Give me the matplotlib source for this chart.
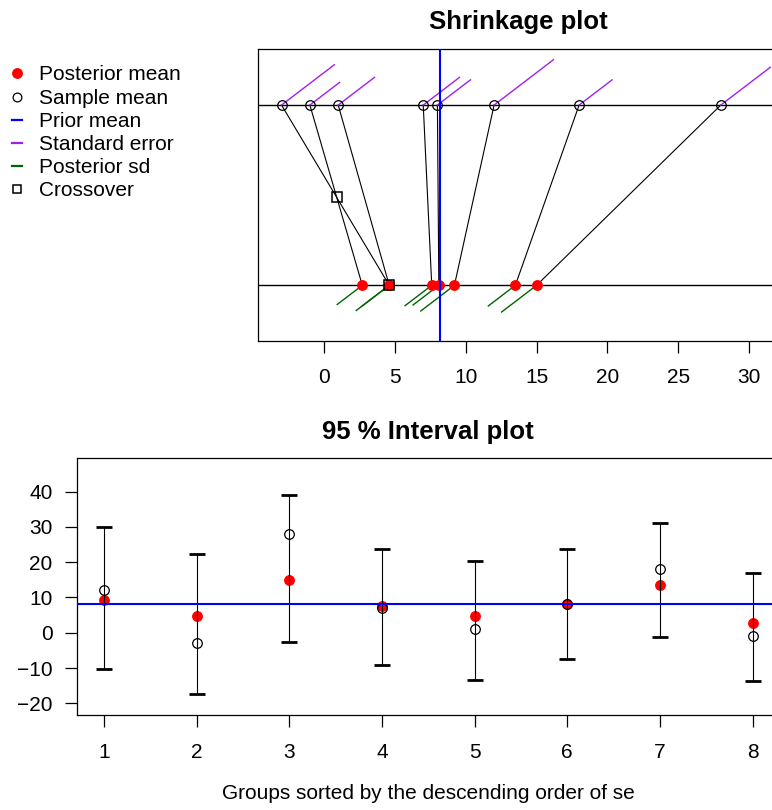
import numpy as np
import matplotlib
matplotlib.use("Agg")
import matplotlib.pyplot as plt

plt.rcParams['font.family'] = ['Liberation Sans', 'DejaVu Sans']

# ---- data (groups sorted by descending se) ----
groups = [1, 2, 3, 4, 5, 6, 7, 8]
sample_mean = [12, -3, 28, 7, 1, 8, 18, -1]
std_err = [18, 16, 15, 11, 11, 10, 10, 9]
post_mean = [9.2, 4.6, 15.0, 7.6, 4.6, 8.1, 13.5, 2.7]
post_sd = [10.2, 10.0, 10.6, 8.1, 8.4, 7.8, 8.2, 7.6]
lower95 = [-10.4, -17.3, -2.5, -9.1, -13.3, -7.4, -1.3, -13.6]
upper95 = [30.1, 22.4, 38.9, 23.6, 20.2, 23.6, 31.0, 16.8]
prior_mean = 8.17
top_xticks = [0, 5, 10, 15, 20, 25, 30]
bot_yticks = [-20, -10, 0, 10, 20, 30, 40]
legend_labels = ["Posterior mean", "Sample mean", "Prior mean",
                 "Standard error", "Posterior sd", "Crossover"]

W, H = 772, 810
fig = plt.figure(figsize=(W / 100, H / 100), dpi=100)
fig.patch.set_facecolor('white')

BASE = 15
TITLE = 18.5
DOT = 6.8
CIRC = 6.9

s = np.array(sample_mean, float)
p = np.array(post_mean, float)
se = np.array(std_err, float)
psd = np.array(post_sd, float)

# ---------------- Shrinkage plot ----------------
L1, R1, T1, B1 = 258.3, 779.2, 49, 341
ax1 = fig.add_axes([L1 / W, 1 - B1 / H, (R1 - L1) / W, (B1 - T1) / H])
ax1.set_xlim(-4.64, 32.12)
ax1.set_ylim(-0.309, 1.311)
xpx = (R1 - L1) / (32.12 + 4.64)
ypx = (B1 - T1) / (1.311 + 0.309)
kx = 3.3 / xpx     # data-x per unit of se
ky = 2.52 / ypx    # data-y per unit of se

ax1.axhline(1, color='black', lw=1.0, zorder=1)
ax1.axhline(0, color='black', lw=1.0, zorder=1)
for i in range(len(s)):
    ax1.plot([s[i], p[i]], [1, 0], color='black', lw=0.8, zorder=2)
    ax1.plot([s[i], s[i] + kx * se[i]], [1, 1 + ky * se[i]], color='#A020F0', lw=1.0, zorder=2)
    ax1.plot([p[i], p[i] - kx * psd[i]], [0, -ky * psd[i]], color='#006400', lw=1.0, zorder=2)
ax1.plot(p, np.zeros_like(p), 'o', color='red', ms=DOT, mec='red', zorder=3)
ax1.plot(s, np.ones_like(s), 'o', mfc='none', mec='black', ms=CIRC, mew=0.9, zorder=3)

# crossovers
cx, cy = [], []
for i in range(len(s)):
    for j in range(i + 1, len(s)):
        den = (p[i] - s[i]) - (p[j] - s[j])
        if abs(den) < 1e-12:
            continue
        t = (s[j] - s[i]) / den
        if -1e-9 <= t <= 1 + 1e-9:
            cx.append(s[i] + t * (p[i] - s[i]))
            cy.append(1 - t)
ax1.plot(cx, cy, 's', mfc='none', mec='black', ms=6.6, mew=1.1, zorder=5)
ax1.axvline(prior_mean, color='blue', lw=1.5, zorder=4)

ax1.set_yticks([])
ax1.set_xticks(top_xticks)
ax1.tick_params(axis='x', length=8.6, width=0.9, pad=11.0, labelsize=BASE)
for sp in ax1.spines.values():
    sp.set_linewidth(0.9)
ax1.set_title("Shrinkage plot", fontsize=TITLE, fontweight='bold', pad=14.4)

# ---------------- Interval plot ----------------
L2, R2, T2, B2 = 77.3, 779.2, 457.7, 715.3
ax2 = fig.add_axes([L2 / W, 1 - B2 / H, (R2 - L2) / W, (B2 - T2) / H])
ax2.set_xlim(0.714, 8.286)
ax2.set_ylim(-23.4, 49.6)
g = np.array(groups)
ax2.plot(g, p, 'o', color='red', ms=DOT, zorder=2)
ax2.plot(g, s, 'o', mfc='none', mec='black', ms=CIRC, mew=0.9, zorder=3)
lo = p - np.array(lower95)
hi = np.array(upper95) - p
ax2.errorbar(g, p, yerr=[lo, hi], fmt='none', ecolor='black', elinewidth=0.8,
             capsize=6.0, capthick=2.0, zorder=4)
ax2.axhline(prior_mean, color='blue', lw=1.5, zorder=5)
ax2.set_xticks(groups)
ax2.set_yticks(bot_yticks)
ax2.tick_params(axis='x', length=8.4, width=0.9, pad=11.5, labelsize=BASE)
ax2.tick_params(axis='y', length=8.4, width=0.9, pad=9.4, labelsize=BASE)
for sp in ax2.spines.values():
    sp.set_linewidth(0.9)
ax2.set_title("95 % Interval plot", fontsize=TITLE, fontweight='bold', pad=13.7)
fig.text(428.25 / W, 1 - 799 / H, "Groups sorted by the descending order of se",
         ha='center', va='baseline', fontsize=BASE)

# ---------------- Legend (manual, figure coords) ----------------
lg = fig.add_axes([0, 0, 1, 1], facecolor='none')
lg.set_xlim(0, W)
lg.set_ylim(H, 0)
lg.axis('off')
y0, step = 73.3, 23.2
mx = 17
ys = [y0 + k * step for k in range(len(legend_labels))]
lg.plot([mx], [ys[0]], 'o', color='red', ms=DOT)
lg.plot([mx], [ys[1]], 'o', mfc='none', mec='black', ms=CIRC - 0.6, mew=0.9)
lg.plot([12.3, 21.7], [ys[2], ys[2]], color='blue', lw=1.6)
lg.plot([12.3, 21.7], [ys[3], ys[3]], color='#A020F0', lw=1.6)
lg.plot([12.3, 21.7], [ys[4], ys[4]], color='#006400', lw=1.6)
lg.plot([mx], [ys[5]], 's', mfc='none', mec='black', ms=6.4, mew=1.1)
for yy, lab in zip(ys, legend_labels):
    lg.text(39.3, yy + 7.2, lab, ha='left', va='baseline', fontsize=BASE)

fig.savefig("out.png", dpi=100, facecolor='white')
